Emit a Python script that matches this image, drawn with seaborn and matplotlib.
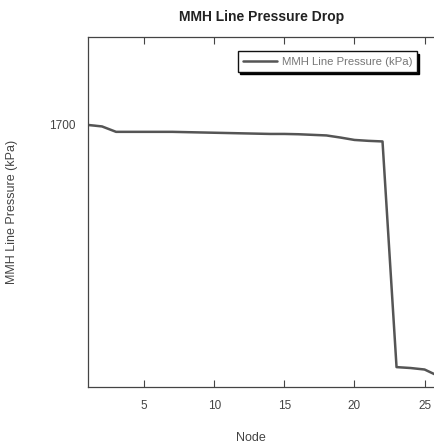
import matplotlib
matplotlib.use("Agg")
import matplotlib.pyplot as plt
import seaborn as sns
import pandas as pd

nodes = list(range(1, 27))
pressure = [1700.0, 1699.5, 1697.7, 1697.7, 1697.7, 1697.7, 1697.7, 1697.6,
            1697.5, 1697.4, 1697.3, 1697.2, 1697.1, 1697.0, 1697.0, 1696.9,
            1696.7, 1696.5, 1695.8, 1695.0, 1694.7, 1694.5, 1619.3, 1619.0,
            1618.5, 1616.3]
series_name = "MMH Line Pressure (kPa)"
x_ticks = [5, 10, 15, 20, 25]
y_ticks = [1700]

sns.set_theme(style="ticks")
plt.rcParams['font.family'] = ['Liberation Sans', 'DejaVu Sans']

df = pd.DataFrame({"Node": nodes, "Pressure": pressure})

fig = plt.figure(figsize=(4.35, 4.47), dpi=100)
ax = fig.add_axes([0.2023, 0.1342, 0.806, 0.783])
sns.lineplot(data=df, x="Node", y="Pressure", ax=ax, color="#555555",
             linewidth=1.8, label=series_name)

ax.set_xlim(1, 26)
ax.set_ylim(1612.67, 1729.3)
ax.set_xticks(x_ticks)
ax.set_yticks(y_ticks)
ax.tick_params(direction="in", length=5, width=0.8, colors="#444444",
               labelsize=8.5, top=True, right=False, labelcolor="#444444", pad=9)
for s in ax.spines.values():
    s.set_color("#444444")
    s.set_linewidth(0.9)

fig.text(262 / 435, 1 - 17 / 447, "MMH Line Pressure Drop", fontsize=10,
         fontweight="bold", color="#222222", ha="center", va="center")
ax.set_xlabel("Node", fontsize=9, color="#444444")
ax.xaxis.set_label_coords((250 - 88) / 349, (387 - 438) / 350)
ax.set_ylabel("MMH Line Pressure (kPa)", fontsize=9, color="#444444")
ax.yaxis.set_label_coords((12 - 88) / 349, 0.5)
ax.xaxis.label.set_va("center")
ax.yaxis.label.set_va("center")

leg = ax.legend(loc="upper right", bbox_to_anchor=(0.955, 0.975), fontsize=8.2,
                frameon=True, fancybox=False,
                shadow={"color": "black", "alpha": 1.0, "ox": 1.5, "oy": -1.5},
                handlelength=3.0, borderpad=0.45, handletextpad=0.4)
leg.get_frame().set_edgecolor("#111111")
leg.get_frame().set_linewidth(1.0)
for t in leg.get_texts():
    t.set_color("#777777")

fig.savefig("out.png", dpi=100)
